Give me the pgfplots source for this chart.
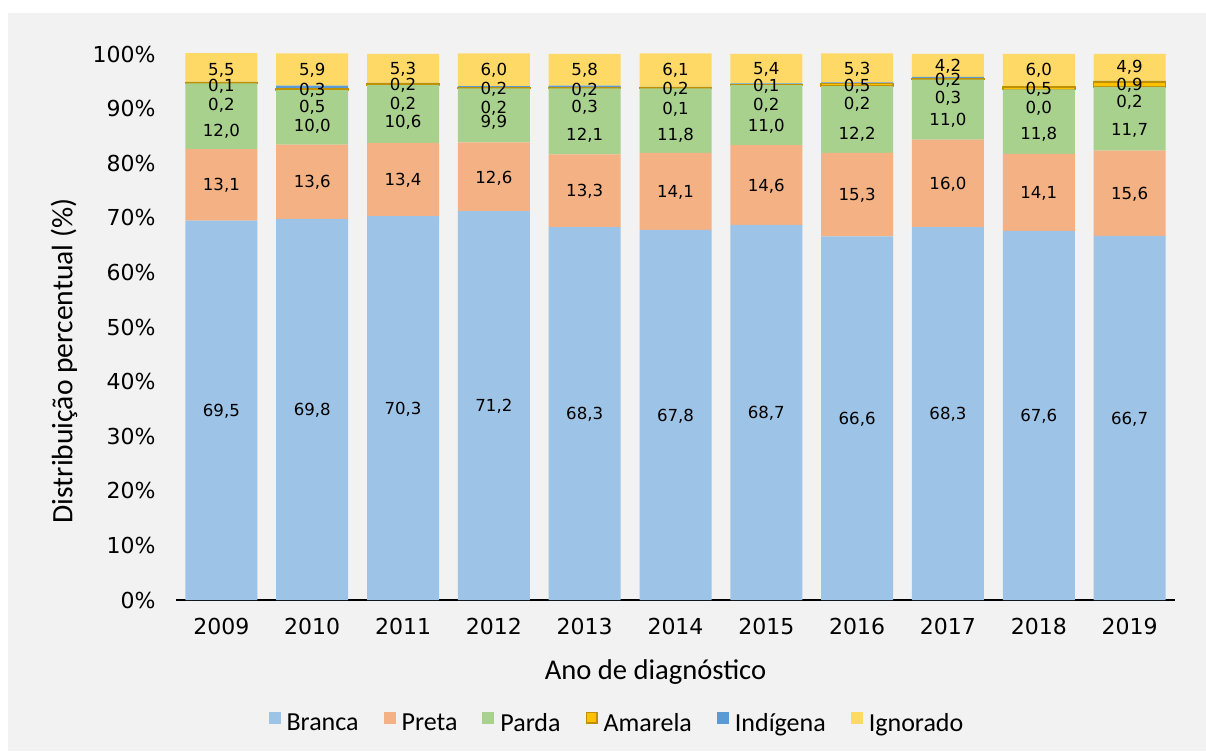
\documentclass[border=0pt]{standalone}
\usepackage{pgfplots}
\pgfplotsset{compat=1.18}
\usepackage{fontspec}
\setmainfont{Carlito}
\newfontfamily\numfont{DejaVu Sans}
\definecolor{bg}{HTML}{F2F2F2}
\definecolor{cBranca}{HTML}{9DC3E6}
\definecolor{cPreta}{HTML}{F4B183}
\definecolor{cParda}{HTML}{A9D18E}
\definecolor{cAmarela}{HTML}{FFC000}
\definecolor{cAmarelaEdge}{HTML}{BF9000}
\definecolor{cIndigena}{HTML}{5B9BD5}
\definecolor{cIgnorado}{HTML}{FFD966}
\begin{document}
\begin{tikzpicture}
\useasboundingbox (0,0) rectangle (603pt,375.5pt);
\fill[white] (0,0) rectangle (603pt,375.5pt);
\fill[bg] (4pt,0) rectangle (603pt,369pt);
\begin{axis}[
  at={(88pt,75.5pt)}, anchor=south west,
  scale only axis, width=499.5pt, height=273pt,
  ybar stacked, bar width=36pt,
  xmin=-0.5, xmax=10.5, ymin=0, ymax=100,
  enlargelimits=false,
  axis lines*=left, separate axis lines,
  y axis line style={draw=none},
  x axis line style={draw=black, line width=1pt, -},
  major tick length=0pt, tick style={draw=none},
  xtick={0,...,10},
  xticklabels={2009,2010,2011,2012,2013,2014,2015,2016,2017,2018,2019},
  ytick={0,10,...,100},
  yticklabels={0\%,10\%,20\%,30\%,40\%,50\%,60\%,70\%,80\%,90\%,100\%},
  ticklabel style={font=\numfont\fontsize{11}{13}\selectfont, inner sep=0pt},
  yticklabel style={anchor=east, xshift=-10pt},
  xticklabel style={anchor=north, yshift=-9pt},
  xlabel={Ano de diagnóstico},
  ylabel={Distribuição percentual (\%)},
  every axis x label/.style={at={([yshift=-39.5pt]rel axis cs:0.48,0)}, anchor=base, font=\fontsize{14.3}{16}\selectfont},
  every axis y label/.style={at={([xshift=-56pt]rel axis cs:0,0.4377)}, rotate=90, anchor=center, font=\fontsize{14.8}{16}\selectfont},
  legend columns=6,
  legend cell align=left,
  legend style={draw=none, fill=none, inner sep=0pt, outer sep=0pt,
    at={(0.4404,-0.2253)}, anchor=center,
    font=\fontsize{13}{15}\selectfont,
    nodes={inner sep=0pt},
    /tikz/every odd column/.append style={column sep=3pt},
    /tikz/every even column/.append style={column sep=12.5pt}},
  legend image code/.code={\fill[#1, draw=none] (0pt,0pt) rectangle (6pt,6pt);},
]
\addplot[fill=cBranca, draw=none] coordinates {(0,69.5) (1,69.8) (2,70.3) (3,71.2) (4,68.3) (5,67.8) (6,68.7) (7,66.6) (8,68.3) (9,67.6) (10,66.7)};
\addplot[fill=cPreta, draw=none] coordinates {(0,13.1) (1,13.6) (2,13.4) (3,12.6) (4,13.3) (5,14.1) (6,14.6) (7,15.3) (8,16.0) (9,14.1) (10,15.6)};
\addplot[fill=cParda, draw=none] coordinates {(0,12.0) (1,10.0) (2,10.6) (3,9.9) (4,12.1) (5,11.8) (6,11.0) (7,12.2) (8,11.0) (9,11.8) (10,11.7)};
\addplot[fill=cAmarela, draw=cAmarelaEdge, line width=0.8pt,
  legend image code/.code={\draw[fill=cAmarela, draw=cAmarelaEdge, line width=0.8pt] (0.4pt,0.4pt) rectangle (5.6pt,5.6pt);}]
  coordinates {(0,0.1) (1,0.3) (2,0.2) (3,0.2) (4,0.2) (5,0.2) (6,0.1) (7,0.5) (8,0.2) (9,0.5) (10,0.9)};
\addplot[fill=cIndigena, draw=none] coordinates {(0,0.2) (1,0.5) (2,0.2) (3,0.2) (4,0.3) (5,0.1) (6,0.2) (7,0.2) (8,0.3) (9,0.0) (10,0.2)};
\addplot[fill=cIgnorado, draw=none] coordinates {(0,5.5) (1,5.9) (2,5.3) (3,6.0) (4,5.8) (5,6.1) (6,5.4) (7,5.3) (8,4.2) (9,6.0) (10,4.9)};
\legend{Branca,Preta,Parda,Amarela,Indígena,Ignorado}
\end{axis}
\begin{axis}[
  at={(88pt,75.5pt)}, anchor=south west,
  scale only axis, width=499.5pt, height=273pt,
  xmin=-0.5, xmax=10.5, ymin=0, ymax=100,
  hide axis, clip=false,
]
\addplot[draw=none, nodes near coords, point meta=explicit symbolic,
  every node near coord/.append style={anchor=center, inner sep=0pt, text depth=0pt,
    font=\numfont\fontsize{8.3}{10}\selectfont}]
  table[meta=lab] {
x y lab
0 34.75 69,5
1 34.90 69,8
2 35.15 70,3
3 35.60 71,2
4 34.15 68,3
5 33.90 67,8
6 34.35 68,7
7 33.30 66,6
8 34.15 68,3
9 33.80 67,6
10 33.35 66,7
0 76.05 13,1
1 76.60 13,6
2 77.00 13,4
3 77.50 12,6
4 74.95 13,3
5 74.85 14,1
6 76.00 14,6
7 74.25 15,3
8 76.30 16,0
9 74.65 14,1
10 74.50 15,6
0 86.1 12,0
1 87.0 10,0
2 87.6 10,6
3 87.6 9,9
4 85.3 12,1
5 85.3 11,8
6 87.0 11,0
7 85.5 12,2
8 88.1 11,0
9 85.5 11,8
10 86.2 11,7
0 90.8 0,2
1 90.5 0,5
2 91.0 0,2
3 90.2 0,2
4 90.5 0,3
5 90.0 0,1
6 90.8 0,2
7 91.0 0,2
8 92.1 0,3
9 90.2 0,0
10 91.3 0,2
0 94.2 0,1
1 93.6 0,3
2 94.5 0,2
3 93.7 0,2
4 93.6 0,2
5 93.7 0,2
6 94.2 0,1
7 94.3 0,5
8 95.4 0,2
9 93.7 0,5
10 94.5 0,9
0 97.2 5,5
1 97.1 5,9
2 97.4 5,3
3 97.1 6,0
4 97.2 5,8
5 97.1 6,1
6 97.3 5,4
7 97.4 5,3
8 98.0 4,2
9 97.1 6,0
10 97.7 4,9
};
\end{axis}
\end{tikzpicture}
\end{document}
